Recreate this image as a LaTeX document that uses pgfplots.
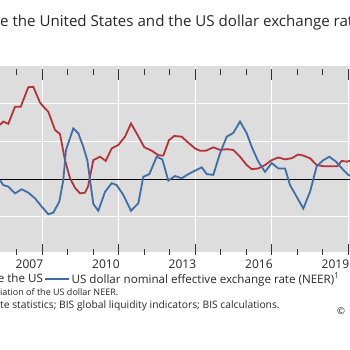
\documentclass[border=0pt]{standalone}
\usepackage{pgfplots}
\pgfplotsset{compat=1.18}
\usepackage{pgfplotstable}
\usepackage{fontspec}
\setmainfont{Open Sans}
\definecolor{bisred}{RGB}{178,52,58}
\definecolor{bisblue}{RGB}{62,110,168}
\definecolor{bisbg}{RGB}{221,221,221}
\definecolor{txt}{RGB}{40,40,40}

\pgfplotstableread{
t v
2006.345 1.43
2006.474 1.52
2006.670 1.46
2006.933 1.91
2007.157 1.91
2007.455 2.43
2007.651 2.44
2007.914 2.02
2008.110 1.87
2008.239 1.78
2008.502 1.30
2008.698 1.19
2008.894 0.50
2009.090 0.02
2009.286 -0.23
2009.482 -0.38
2009.678 -0.36
2009.796 -0.20
2010.004 0.50
2010.267 0.59
2010.490 0.48
2010.725 0.81
2010.984 0.90
2011.247 1.12
2011.482 1.47
2011.745 1.16
2012.004 0.84
2012.294 0.75
2012.553 0.63
2012.749 0.62
2012.973 1.03
2013.180 1.14
2013.470 1.12
2013.729 0.96
2013.992 0.81
2014.188 0.75
2014.423 0.75
2014.710 0.84
2014.973 0.77
2015.235 0.79
2015.494 0.77
2015.757 0.59
2016.020 0.37
2016.216 0.26
2016.475 0.28
2016.737 0.37
2017.000 0.50
2017.259 0.57
2017.522 0.52
2017.784 0.55
2018.043 0.65
2018.239 0.62
2018.502 0.55
2018.765 0.37
2019.024 0.34
2019.286 0.34
2019.573 0.34
2019.745 0.48
2019.941 0.46
2020.043 0.48
2020.200 0.47
}\redtable

\pgfplotstableread{
t v
2006.345 -0.03
2006.474 -0.16
2006.670 -0.20
2006.933 -0.38
2007.196 -0.27
2007.455 -0.36
2007.718 -0.51
2007.980 -0.73
2008.239 -0.93
2008.435 -0.89
2008.670 -0.60
2008.827 -0.03
2008.933 0.77
2009.220 1.34
2009.416 1.21
2009.612 0.85
2009.769 0.50
2010.004 -0.66
2010.200 -0.84
2010.463 -0.34
2010.725 -0.11
2010.921 -0.16
2011.180 -0.42
2011.482 -0.84
2011.769 -0.64
2011.965 0.06
2012.200 0.13
2012.490 0.59
2012.710 0.52
2012.945 -0.04
2013.208 0.08
2013.470 0.02
2013.729 0.13
2013.992 0.22
2014.255 0.31
2014.451 0.13
2014.710 0.11
2014.973 0.68
2015.235 1.12
2015.494 1.22
2015.757 1.52
2016.020 1.21
2016.216 0.85
2016.475 0.46
2016.737 0.19
2017.000 0.42
2017.259 0.28
2017.522 0.28
2017.718 -0.16
2017.980 -0.47
2018.239 -0.78
2018.502 -0.34
2018.765 0.34
2019.024 0.50
2019.259 0.59
2019.522 0.46
2019.808 0.24
2020.004 0.11
2020.200 0.05
}\bluetable

\begin{document}
\begin{tikzpicture}[x=1pt,y=1pt]
\clip (0,0) rectangle (350,-350);
\fill[white] (0,0) rectangle (350,-350);
\begin{axis}[
  at={(0pt,-252pt)}, anchor=south west,
  scale only axis, width=350pt, height=186pt,
  xmin=2006.345, xmax=2020.070,
  ymin=-1.93, ymax=2.99,
  axis background/.style={fill=bisbg},
  axis line style={draw=none},
  clip=true,
  xtick={2008,2011,2014,2017,2020},
  minor xtick={2007,2009,2010,2012,2013,2015,2016,2018,2019},
  xticklabels={},
  xmajorgrids=true,
  tick align=inside,
  major tick length=11pt,
  minor tick length=6pt,
  x tick style={black!80, line width=0.8pt, yshift=-3pt},
  ytick={-1,1,2,3},
  yticklabels={},
  ymajorgrids=true,
  y tick style={draw=none},
  grid style={white, line width=0.8pt},
  extra y ticks={0},
  extra y tick labels={},
  extra y tick style={grid style={black, line width=0.7pt}, y tick style={draw=none}},
  extra x ticks={2007.5,2010.5,2013.5,2016.5,2019.5},
  extra x tick labels={2007,2010,2013,2016,2019},
  extra x tick style={xmajorgrids=false, major tick length=0pt, x tick style={draw=none}},
  xticklabel style={font=\fontsize{12}{14}\selectfont, text=txt, inner sep=0pt, yshift=-7.5pt},
  /pgf/number format/assume math mode=true,
  legend columns=2,
  legend cell align=left,
  legend style={at={(axis description cs:-0.0857,-0.145)}, anchor=west,
    draw=none, fill=none, inner sep=0pt, outer sep=0pt,
    font=\fontsize{11.6}{14}\selectfont, text=txt,
    nodes={inner sep=0pt},
    /tikz/every odd column/.append style={column sep=2pt},
    /tikz/every even column/.append style={column sep=1pt}},
  legend image code/.code={\draw[#1] (0pt,0pt) -- (24pt,0pt);},
]
\addplot[bisred, line width=1.8pt] table[x=t,y=v] {\redtable};
\addlegendentry{\llap{Bank credit to borrowers outsid}e the US}
\addplot[bisblue, line width=1.8pt] table[x=t,y=v] {\bluetable};
\addlegendentry{US dollar nominal effective exchange rate (NEER)\textsuperscript{1}}
\end{axis}
\node[anchor=base west, inner sep=0pt, text=txt, font=\fontsize{15.1}{18}\selectfont] at (0,-26.7) {\llap{Cross-border credit outsid}e the United States and the US dollar exchange rate};
\node[anchor=base west, inner sep=0pt, text=txt, font=\fontsize{9}{10}\selectfont] at (0,-295) {\llap{\textsuperscript{1} An increase indicates an apprec}iation of the US dollar NEER.};
\node[anchor=base west, inner sep=0pt, text=txt, font=\fontsize{10.3}{12}\selectfont] at (0,-308.5) {\llap{Sources: BIS effective exchange ra}te statistics; BIS global liquidity indicators; BIS calculations.};
\node[anchor=base west, inner sep=0pt, text=txt, font=\fontsize{9.5}{11}\selectfont] at (337,-314.5) {\copyright\ \ Bank for International Settlements};
\end{tikzpicture}
\end{document}
